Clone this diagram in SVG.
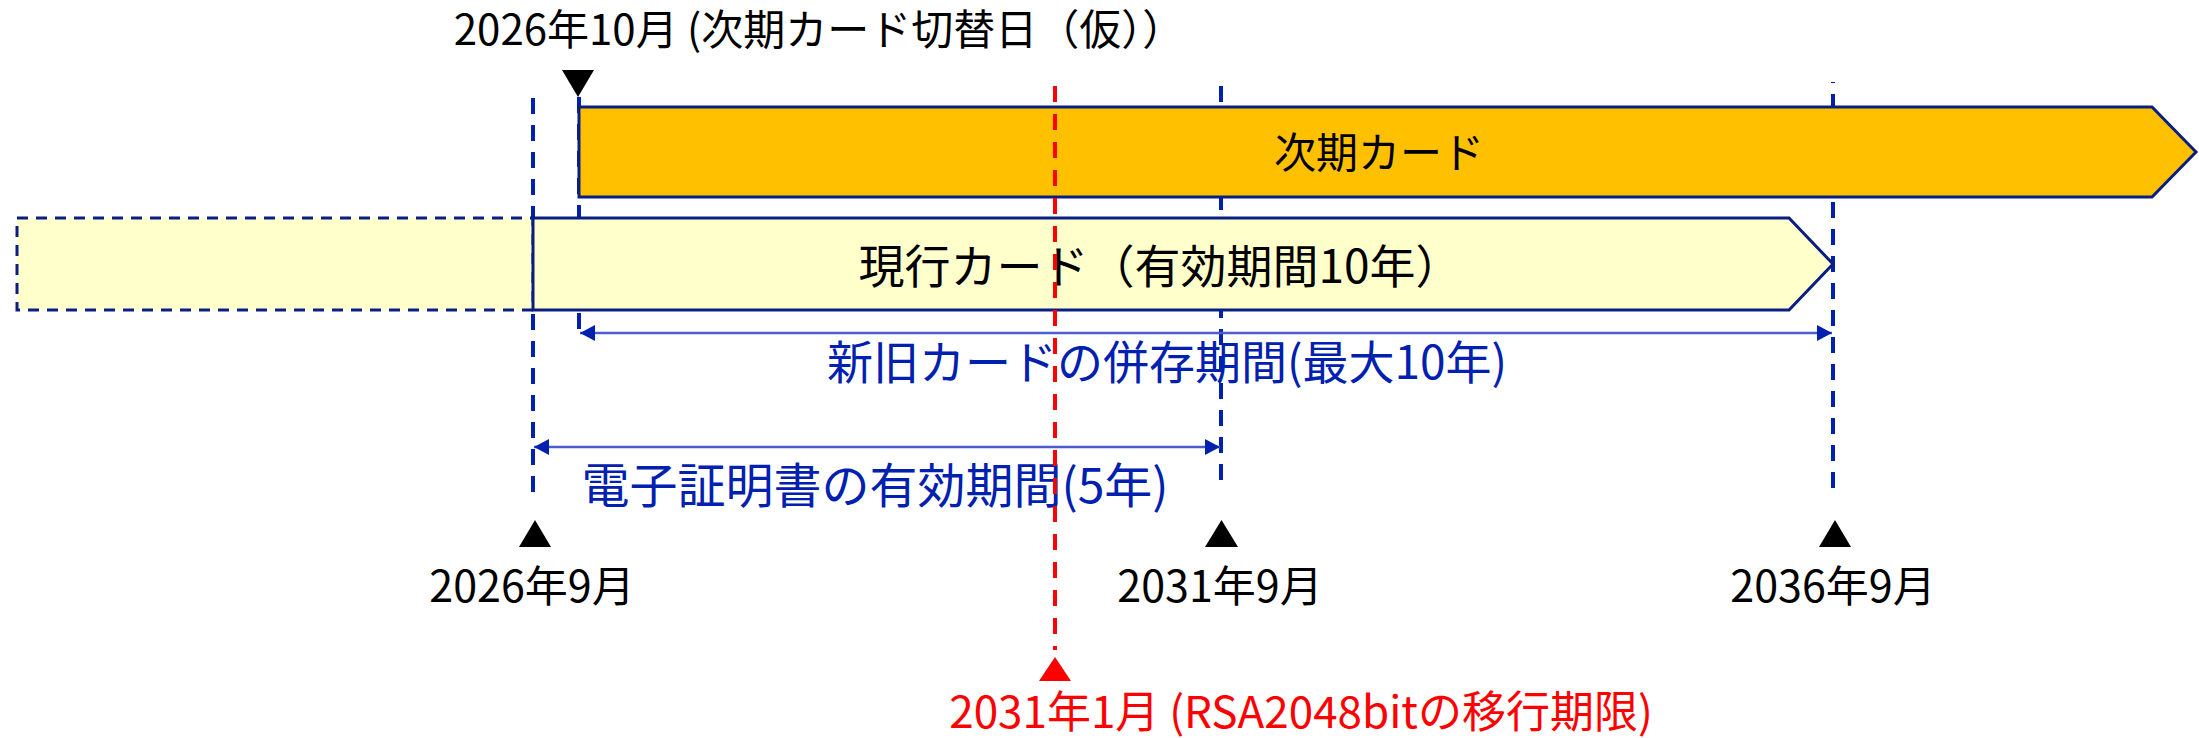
<svg xmlns="http://www.w3.org/2000/svg" width="2199" height="738" viewBox="0 0 2199 738">
<defs>
<style>
.vdash{stroke:#0020B0;stroke-width:4;stroke-dasharray:16 11;fill:none}
.rdash{stroke:#FF0000;stroke-width:4;stroke-dasharray:16 12;fill:none}
.box{stroke:#0A1E82;stroke-width:3}
.arr{stroke:#4A5CD0;stroke-width:2.5;fill:none}
.t{font-family:"Noto Sans CJK JP","Noto Sans",sans-serif;text-anchor:middle}
.blk{fill:#000}
.blu{fill:#0020B0}
.red{fill:#FF0000}
</style>
<marker id="ah" markerUnits="userSpaceOnUse" markerWidth="16" markerHeight="17" refX="15" refY="8" orient="auto-start-reverse" viewBox="0 0 16 17">
<path d="M0,0 L15,8 L0,16 Z" fill="#0020B0"/>
</marker>
</defs>
<g id="guides">
<line class="vdash" x1="533" y1="98" x2="533" y2="495"/>
<line class="vdash" x1="579" y1="97" x2="579" y2="337"/>
<line class="vdash" x1="1221" y1="86" x2="1221" y2="483"/>
<line class="vdash" x1="1833" y1="82" x2="1833" y2="488" stroke-dashoffset="-12"/>
</g>
<g id="current-card-past">
<rect x="17" y="218" width="516" height="92" fill="#FFFFCC" stroke="#0A1E82" stroke-width="3" stroke-dasharray="11 8"/>
</g>
<g id="current-card">
<polygon class="box" points="533,218 1789,218 1833,264 1789,310 533,310" fill="#FFFFCC"/>
<text class="t blk" x="1160" y="283" font-size="46">現行カード（有効期間10年）</text>
</g>
<g id="next-card">
<polygon class="box" points="579,107 2152,107 2196,152 2152,197 579,197" fill="#FFC000"/>
<text class="t blk" x="1379" y="168" font-size="42">次期カード</text>
</g>
<g id="connectors">
<line class="arr" x1="580" y1="333" x2="1832" y2="333" marker-start="url(#ah)" marker-end="url(#ah)"/>
<line class="arr" x1="534" y1="447" x2="1220" y2="447" marker-start="url(#ah)" marker-end="url(#ah)"/>
</g>
<g id="coexist-label">
<text class="t blu" x="1167" y="379" font-size="46">新旧カードの併存期間(最大10年)</text>
</g>
<g id="cert-label">
<text class="t blu" x="875" y="503" font-size="48">電子証明書の有効期間(5年)</text>
</g>
<g id="switch-date">
<polygon points="562,70 594,70 578,97" fill="#000"/>
<text class="t blk" x="819" y="45" font-size="42">2026年10月 (次期カード切替日（仮））</text>
</g>
<g id="date-2026">
<polygon points="519,547 551,547 535,520" fill="#000"/>
<text class="t blk" x="532" y="602" font-size="43">2026年9月</text>
</g>
<g id="date-2031">
<polygon points="1205,547 1238,547 1221.5,520" fill="#000"/>
<text class="t blk" x="1220" y="602" font-size="43">2031年9月</text>
</g>
<g id="date-2036">
<polygon points="1819,547 1851,547 1835,520" fill="#000"/>
<text class="t blk" x="1833" y="602" font-size="43">2036年9月</text>
</g>
<g id="rsa-deadline">
<line class="rdash" x1="1055" y1="86" x2="1055" y2="650"/>
<polygon points="1039,681 1071,681 1055,657" fill="#FF0000"/>
<text class="t red" x="1301" y="728" font-size="44">2031年1月 (RSA2048bitの移行期限)</text>
</g>
</svg>
